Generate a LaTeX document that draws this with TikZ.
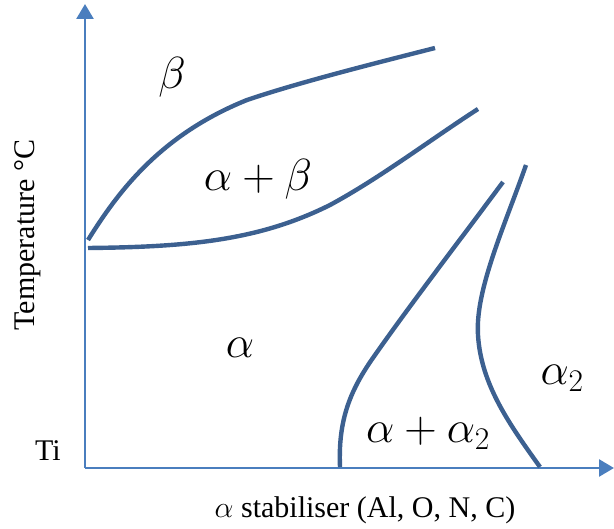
\RequirePackage{fix-cm}
\documentclass[tikz,border=0pt]{standalone}
\usepackage{fontspec}
\setmainfont{Liberation Serif}
\usetikzlibrary{arrows.meta}
\definecolor{axisblue}{HTML}{4A7EBE}
\definecolor{curveblue}{HTML}{3C6090}
\begin{document}
\begin{tikzpicture}[x=1pt,y=-1pt,
  axis/.style={draw=axisblue,line width=2.6pt,-{Triangle[length=15pt,width=17pt]}},
  phase/.style={draw=curveblue,line width=4.4pt},
  region/.style={inner sep=0pt,font=\fontsize{45}{52}\selectfont},
  lab/.style={inner sep=0pt,font=\fontsize{30}{36}\selectfont}]
\useasboundingbox (0,0) rectangle (614,529);
\coordinate (O) at (85,468);
\coordinate (ytip) at (85,4);
\coordinate (xtip) at (614,468);
\draw[axis] (O) -- (ytip);
\draw[axis] (O) -- (xtip);
% phase boundaries
\draw[phase] (88,240) .. controls (118,192) and (160,135) .. (247,100)
                      .. controls (300,82) and (380,62) .. (435,48);
\draw[phase] (88,248) .. controls (190,247) and (260,240) .. (330,205)
                      .. controls (380,178) and (430,140) .. (478,109);
\draw[phase] (340,467) .. controls (338,420) and (350,390) .. (375,355)
                       .. controls (410,305) and (460,240) .. (503,182);
\draw[phase] (526,165) .. controls (505,225) and (475,290) .. (478,335)
                       .. controls (481,385) and (510,425) .. (540,467);
% region labels
\node[region] (beta) at (172,77) {$\beta$};
\node[region] (ab) at (258,179) {$\alpha+\beta$};
\node[region] (a) at (240,348) {$\alpha$};
\node[region] (aa2) at (428,433) {$\alpha+\alpha_2$};
\node[region] (a2) at (562,378) {$\alpha_2$};
% axis labels
\node[lab] (ti) at (48,451) {Ti};
\node[lab,rotate=90] (temp) at (28,235) {Temperature °C};
\node[lab] (stab) at (365,510) {$\alpha$ stabiliser (Al, O, N, C)};
\end{tikzpicture}
\end{document}
